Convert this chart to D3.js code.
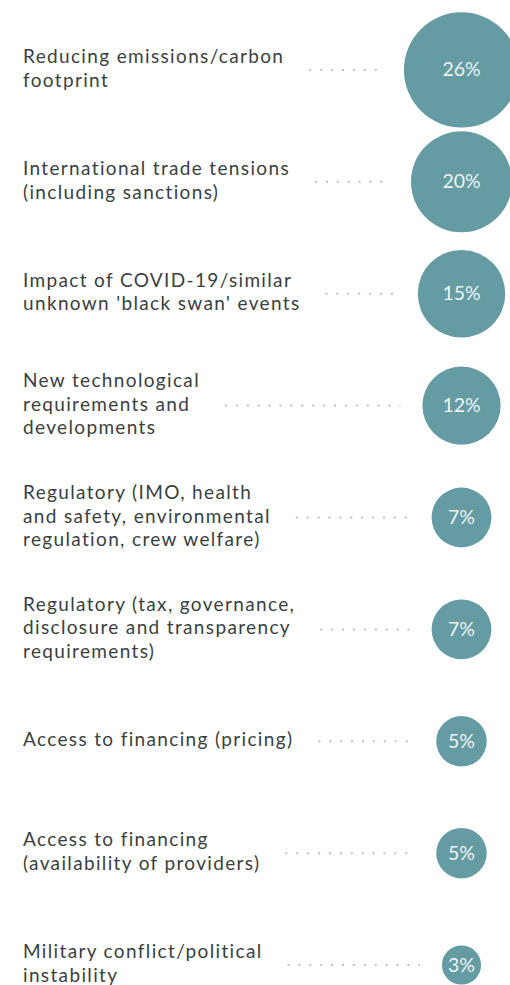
<!DOCTYPE html>
<html lang="en">
<head>
  <meta charset="UTF-8">
  <title>Risks</title>
  <style>
  html, body { margin: 0; padding: 0; background: #fff; }
  #chart svg { display: block; }
  </style>
</head>
<body>
  <div id="chart"></div>
  <script src="https://cdn.jsdelivr.net/npm/d3@7/dist/d3.min.js"></script>
  <script>
    // label lines, as wrapped in the original
    const categories = [
      ['Reducing emissions/carbon', 'footprint'],
      ['International trade tensions', '(including sanctions)'],
      ['Impact of COVID-19/similar', "unknown 'black swan' events"],
      ['New technological', 'requirements and', 'developments'],
      ['Regulatory (IMO, health', 'and safety, environmental', 'regulation, crew welfare)'],
      ['Regulatory (tax, governance,', 'disclosure and transparency', 'requirements)'],
      ['Access to financing (pricing)'],
      ['Access to financing', '(availability of providers)'],
      ['Military conflict/political', 'instability'],
    ];
    const values = [26, 20, 15, 12, 7, 7, 5, 5, 3];

    const width = 510, height = 985;
    const svg = d3.select('#chart').append('svg')
      .attr('width', width)
      .attr('height', height);

    const y = d3.scaleBand()
      .domain(d3.range(categories.length))
      .range([14, 1021]);

    const r = d3.scaleSqrt()
      .domain([0, 26])
      .range([0, 57.6]);

    const cx = 461.5;
    const textX = 23;
    const lineH = 23.5;

    const rows = svg.selectAll('g.row')
      .data(values.map((v, i) => ({v, lines: categories[i], i})))
      .join('g')
      .attr('class', 'row')
      .attr('transform', d => `translate(0,${y(d.i) + y.bandwidth() / 2})`);

    const label = rows.append('text')
      .attr('x', textX)
      .attr('font-family', 'Lato, sans-serif')
      .attr('font-size', 19)
      .attr('letter-spacing', 1.35)
      .attr('fill', '#3a3f3f');

    label.selectAll('tspan')
      .data(d => d.lines.map((t, k) => ({t, k, n: d.lines.length})))
      .join('tspan')
      .attr('x', textX)
      .attr('y', d => (d.k - (d.n - 1) / 2) * lineH + 5)
      .text(d => d.t);

    // dotted leader between label and bubble
    rows.each(function(d) {
      const g = d3.select(this);
      const tw = g.select('text').node().getBBox().width;
      const x0 = textX + tw + 25;
      const x1 = cx - r(d.v) - 22;
      g.append('line')
        .attr('x1', x0)
        .attr('x2', x1)
        .attr('y1', 0)
        .attr('y2', 0)
        .attr('stroke', '#cdbbbd')
        .attr('stroke-width', 2)
        .attr('stroke-dasharray', '2 8.9');
    });

    rows.append('circle')
      .attr('cx', cx)
      .attr('cy', 0)
      .attr('r', d => r(d.v))
      .attr('fill', '#659ba3');

    rows.append('text')
      .attr('x', cx)
      .attr('y', 6.5)
      .attr('text-anchor', 'middle')
      .attr('font-family', 'Lato, sans-serif')
      .attr('font-size', 19.5)
      .attr('fill', '#eef4f4')
      .text(d => d.v + '%');
  </script>
</body>
</html>
